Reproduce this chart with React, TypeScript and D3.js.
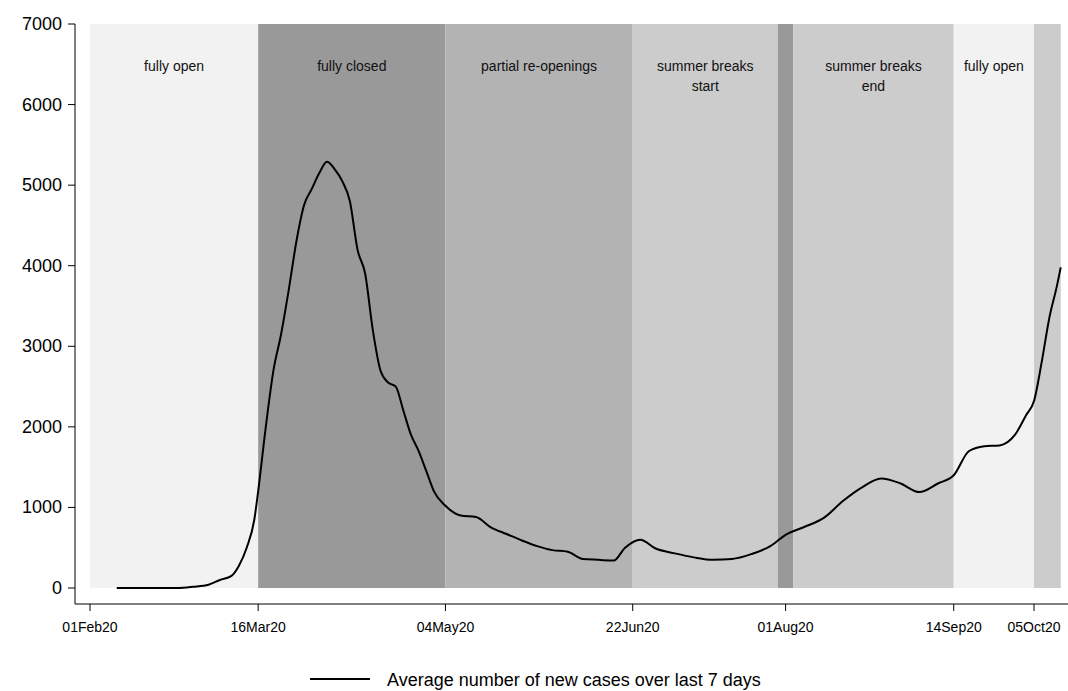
import * as d3 from "d3";

const dates = [
  "2020-02-08", "2020-02-24", "2020-02-28", "2020-03-03", "2020-03-06", "2020-03-09", "2020-03-11",
  "2020-03-13", "2020-03-15", "2020-03-16", "2020-03-18", "2020-03-20", "2020-03-22", "2020-03-24",
  "2020-03-26", "2020-03-28", "2020-03-30", "2020-04-01", "2020-04-03", "2020-04-05", "2020-04-07",
  "2020-04-09", "2020-04-11", "2020-04-13", "2020-04-15", "2020-04-17", "2020-04-19", "2020-04-21",
  "2020-04-23", "2020-04-25", "2020-04-27", "2020-04-29", "2020-05-01", "2020-05-04", "2020-05-08",
  "2020-05-12", "2020-05-16", "2020-05-20", "2020-05-24", "2020-05-28", "2020-06-01", "2020-06-05",
  "2020-06-09", "2020-06-13", "2020-06-17", "2020-06-20", "2020-06-24", "2020-06-28", "2020-07-03",
  "2020-07-08", "2020-07-13", "2020-07-18", "2020-07-23", "2020-07-28", "2020-08-01", "2020-08-06",
  "2020-08-11", "2020-08-16", "2020-08-21", "2020-08-26", "2020-08-31", "2020-09-05", "2020-09-10",
  "2020-09-14", "2020-09-18", "2020-09-22", "2020-09-26", "2020-09-30", "2020-10-03", "2020-10-05",
  "2020-10-07", "2020-10-09", "2020-10-11", "2020-10-12"
];
const cases = [
  0, 0, 15, 40, 100, 150, 280,
  500, 850, 1200, 2000, 2700, 3150, 3700,
  4300, 4750, 4950, 5150, 5290, 5200, 5050,
  4800, 4200, 3900, 3200, 2700, 2550, 2500,
  2200, 1900, 1700, 1450, 1200, 1020, 900,
  880, 750, 670, 590, 520, 470, 450,
  360, 350, 340, 500, 600, 490, 430,
  380, 350, 360, 420, 520, 660, 760,
  870, 1080, 1250, 1360, 1300, 1190, 1300,
  1400, 1700, 1760, 1770, 1900, 2150, 2320,
  2800, 3350, 3750, 3980
];

const bandStarts = ["2020-02-01", "2020-03-16", "2020-05-04", "2020-06-22", "2020-07-30", "2020-08-03", "2020-09-14", "2020-10-05"];
const bandEnds = ["2020-03-16", "2020-05-04", "2020-06-22", "2020-07-30", "2020-08-03", "2020-09-14", "2020-10-05", "2020-10-12"];
const bandFills = ["#f2f2f2", "#999999", "#b3b3b3", "#cccccc", "#999999", "#cccccc", "#f2f2f2", "#cccccc"];
const bandLabels = [["fully open"], ["fully closed"], ["partial re-openings"], ["summer breaks", "start"], [], ["summer breaks", "end"], ["fully open"], []];

const xTickDates = ["2020-02-01", "2020-03-16", "2020-05-04", "2020-06-22", "2020-08-01", "2020-09-14", "2020-10-05"];
const xTickLabels = ["01Feb20", "16Mar20", "04May20", "22Jun20", "01Aug20", "14Sep20", "05Oct20"];
const yTicks = [0, 1000, 2000, 3000, 4000, 5000, 6000, 7000];

const parse = d3.utcParse("%Y-%m-%d");
const day = (s: string) => parse(s) as Date;

export default function App() {
  const width = 1068;
  const height = 691;
  const x = d3.scaleUtc([day("2020-02-01"), day("2020-10-05")], [90, 1034]);
  const y = d3.scaleLinear([0, 7000], [588, 24]);
  const points = dates.map((d, i) => ({ day: day(d), v: cases[i] }));
  const line = d3.line<(typeof points)[number]>().x((p) => x(p.day)).y((p) => y(p.v)).curve(d3.curveMonotoneX);
  const font = "Arial, 'Liberation Sans', sans-serif";
  const axisY = 604;

  return (
    <svg width={width} height={height} style={{ position: "absolute", left: 0, top: 0, fontFamily: font }}>
      <rect width={width} height={height} fill="#fff" />
      {bandStarts.map((s, i) => {
        const x0 = x(day(s));
        const x1 = x(day(bandEnds[i]));
        return (
          <g key={s}>
            <rect x={x0} y={y(7000)} width={x1 - x0} height={y(0) - y(7000)} fill={bandFills[i]} />
            {bandLabels[i].map((t, j) => (
              <text key={t} x={(x0 + x1) / 2} y={71 + j * 20} textAnchor="middle" fontSize={14} fill="#111">{t}</text>
            ))}
          </g>
        );
      })}
      <path d={line(points) ?? undefined} fill="none" stroke="#000" strokeWidth={2} />
      <line x1={75} x2={75} y1={y(7000)} y2={axisY} stroke="#000" />
      {yTicks.map((t) => (
        <g key={t}>
          <line x1={68} x2={75} y1={y(t)} y2={y(t)} stroke="#000" />
          <text x={62} y={y(t) + 6} textAnchor="end" fontSize={18}>{t}</text>
        </g>
      ))}
      <line x1={75} x2={1068} y1={axisY} y2={axisY} stroke="#000" />
      {xTickDates.map((d, i) => (
        <g key={d}>
          <line x1={x(day(d))} x2={x(day(d))} y1={axisY} y2={axisY + 7} stroke="#000" />
          <text x={x(day(d))} y={axisY + 28} textAnchor="middle" fontSize={14}>{xTickLabels[i]}</text>
        </g>
      ))}
      <line x1={310} x2={370} y1={679} y2={679} stroke="#000" strokeWidth={2} />
      <text x={387} y={686} fontSize={18}>Average number of new cases over last 7 days</text>
    </svg>
  );
}
